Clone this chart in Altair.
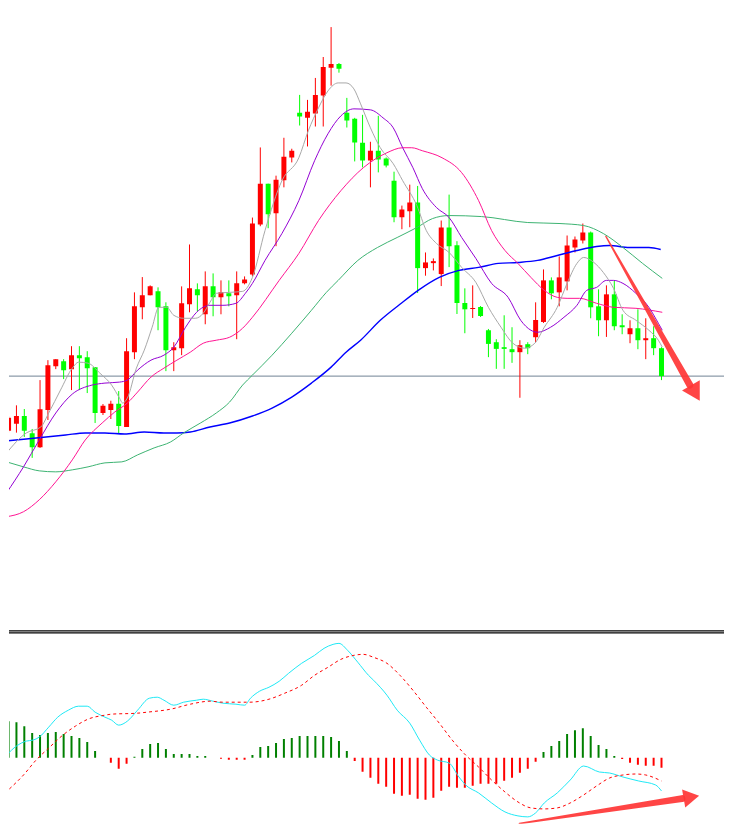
import altair as alt
import pandas as pd

# ---------------- candles (index 0..83) ----------------
opens = [20.93, 21.63, 22.40, 20.67, 19.27, 23.00, 27.40, 27.90, 27.10, 28.50,
         28.30, 27.30, 22.70, 23.00, 23.63, 21.30, 28.80, 33.30, 34.50, 34.90,
         33.40, 29.00, 29.20, 33.60, 35.10, 32.60, 35.40, 34.30, 34.70, 34.50,
         35.70, 36.60, 41.60, 45.70, 42.73, 46.03, 48.33, 52.80, 52.30, 52.73,
         54.53, 57.33, 57.70, 52.80, 52.20, 49.80, 48.03, 49.00, 48.23, 46.00,
         42.33, 42.93, 43.80, 37.23, 37.73, 36.63, 41.30, 39.53, 33.73, 33.13,
         33.33, 31.00, 29.80, 29.30, 29.10, 28.80, 29.60, 30.30, 31.83, 36.00,
         34.80, 35.90, 39.30, 40.00, 40.80, 33.40, 32.00, 34.60, 31.50, 30.60,
         31.20, 30.00, 30.20, 29.20]
closes = [22.23, 22.40, 20.93, 19.27, 23.07, 27.50, 28.10, 27.00, 28.50, 28.20,
          27.20, 22.70, 23.43, 23.63, 21.40, 28.90, 33.40, 34.50, 35.40, 33.30,
          29.00, 29.30, 33.70, 35.20, 34.50, 35.40, 34.30, 34.80, 34.40, 35.70,
          36.10, 41.70, 45.70, 42.63, 46.10, 48.40, 49.00, 52.43, 52.90, 54.60,
          57.40, 57.70, 57.23, 52.03, 49.83, 48.03, 49.00, 48.13, 47.53, 42.33,
          43.10, 43.80, 37.23, 37.80, 37.93, 41.30, 39.43, 33.73, 33.10, 33.23,
          32.43, 29.63, 29.13, 29.13, 28.80, 29.50, 29.20, 32.03, 36.00, 34.70,
          36.30, 39.50, 40.10, 40.80, 33.30, 32.00, 34.60, 31.40, 31.30, 31.20,
          30.00, 30.20, 29.20, 26.40]
highs = [22.40, 23.47, 23.10, 21.10, 26.00, 28.00, 28.10, 28.10, 29.40, 29.40,
         28.90, 27.30, 23.60, 23.93, 24.90, 30.20, 34.80, 36.33, 35.50, 35.30,
         33.80, 29.80, 35.40, 39.60, 35.70, 36.90, 36.70, 36.00, 36.00, 36.90,
         36.40, 42.30, 49.33, 45.70, 46.50, 50.30, 49.20, 54.60, 54.10, 56.30,
         58.40, 61.40, 57.80, 54.30, 52.30, 52.60, 49.90, 52.50, 48.33, 46.90,
         43.50, 45.60, 45.47, 38.80, 38.20, 42.00, 44.60, 39.93, 35.20, 35.50,
         33.43, 31.13, 30.10, 32.50, 31.30, 30.00, 29.80, 33.80, 37.10, 36.30,
         38.40, 40.50, 40.40, 41.70, 40.90, 35.10, 35.50, 36.00, 32.60, 32.00,
         33.10, 32.20, 31.40, 29.30]
lows = [20.73, 20.73, 20.30, 18.20, 19.20, 22.00, 27.10, 26.10, 25.00, 25.00,
        24.70, 21.70, 22.50, 22.10, 20.70, 21.30, 28.10, 32.10, 34.50, 31.00,
        26.90, 26.90, 28.50, 32.80, 32.90, 31.60, 32.40, 32.60, 33.40, 30.10,
        35.60, 36.40, 41.43, 41.23, 39.43, 45.33, 47.83, 51.53, 49.43, 51.43,
        51.43, 55.53, 56.83, 51.33, 47.93, 47.33, 45.33, 46.83, 47.33, 41.83,
        41.13, 41.33, 34.73, 36.47, 37.00, 35.43, 37.33, 32.63, 30.70, 32.23,
        32.33, 28.30, 27.13, 27.13, 27.73, 24.23, 28.60, 29.80, 31.73, 34.10,
        33.40, 35.00, 38.80, 39.70, 32.20, 30.40, 30.33, 31.00, 30.60, 29.70,
        29.10, 28.10, 28.50, 26.00]

# ---------------- moving averages (candle index, price) ----------------
ma5_i = [-0.25, 2.25, 4.1, 5.1, 6.6, 8.1, 8.9, 10.1, 11.6, 13.1, 14.1, 14.5, 15.1, 16.25, 17.25,
         18.25, 19.1, 20.1, 21, 22.25, 23.75, 24.75, 25.6, 26.4, 28.1, 29.75, 31, 32.6, 34.75, 36.9,
         38.1, 39.4, 40.6, 41.9, 42.9, 43.9, 44.75, 46, 47.25, 48.9, 50.1, 51.9, 53.1, 54.4, 56,
         57.6, 59.4, 61, 62.6, 64.1, 65.6, 66.9, 68.1, 69.75, 71, 72.25, 73.1, 74.4, 75.6, 76.9,
         78.1, 79.75, 81.4, 82.6, 83.1]
ma5_v = [18.7, 20.7, 21.3, 22.7, 25.0, 27.2, 27.8, 27.7, 26.7, 25.5, 24.2, 23.7, 24.2, 27.2, 29.0,
         31.3, 33.3, 33.3, 32.5, 32.2, 32.2, 32.7, 33.8, 34.7, 34.8, 34.9, 36.3, 41.0, 46.0, 48.3,
         51.0, 53.3, 55.0, 55.8, 55.8, 55.2, 53.7, 51.3, 49.3, 47.7, 46.0, 43.5, 41.0, 39.7, 38.8,
         37.3, 35.8, 33.3, 31.3, 29.7, 29.2, 29.7, 31.3, 33.3, 35.7, 37.7, 38.3, 37.8, 36.8, 35.2,
         33.0, 32.0, 31.0, 30.0, 29.3]
ma10_i = [-0.25, 1.9, 3.9, 6, 8.1, 10.6, 12.25, 14.1, 15.1, 16.4, 18.1, 19.75, 21, 22.5, 23.9,
          25.6, 27.25, 28.9, 30.1, 31, 32.6, 34.75, 36.9, 38.9, 40.6, 42.25, 43.9, 46, 47.6, 48.9,
          50.1, 51.4, 52.6, 54.4, 56, 57.6, 59.4, 61.4, 63.5, 65.1, 66.4, 67.25, 68.9, 70.6, 72.25,
          73.5, 74.75, 76, 76.9, 78.1, 79.75, 81.4, 82.6, 83.1]
ma10_v = [14.7, 17.3, 20.0, 22.7, 24.6, 25.5, 25.7, 25.8, 26.0, 27.0, 28.0, 28.5, 29.3, 31.3, 32.8,
          33.5, 33.5, 33.7, 34.7, 35.7, 38.0, 40.7, 44.0, 48.0, 50.7, 52.5, 53.2, 53.1, 52.3, 51.3,
          49.3, 47.3, 45.2, 43.3, 42.3, 40.3, 38.2, 35.7, 34.3, 32.0, 31.0, 30.8, 31.3, 32.3, 33.5,
          35.0, 35.3, 36.0, 36.0, 35.7, 34.7, 33.3, 31.7, 31.0]
ma20_i = [-0.25, 1.9, 3.9, 6, 8.1, 9.75, 11.9, 13.5, 15.1, 16.4, 18.1, 19.75, 21.4, 23.1, 24.75,
          26.4, 28.1, 29.75, 31, 34.4, 36.9, 39.4, 42.25, 45.1, 48.1, 50.1, 51.25, 52.6, 55.1, 57.6,
          59.75, 61.4, 63.1, 64.75, 66.4, 68.1, 69.75, 71, 72.6, 74.75, 76.9, 79.75, 83.1]
ma20_v = [12.3, 12.8, 14.0, 15.8, 18.0, 20.0, 21.7, 22.8, 23.7, 24.8, 26.3, 27.2, 28.0, 28.8, 29.7,
          30.0, 30.3, 31.2, 32.3, 36.0, 38.7, 42.0, 45.0, 47.3, 48.8, 49.3, 49.3, 49.0, 48.3, 46.8,
          44.0, 41.0, 39.0, 37.7, 36.3, 35.0, 34.3, 34.2, 34.2, 33.7, 33.3, 33.2, 32.8]
ma60_i = [-0.25, 1.9, 3.9, 6, 8.1, 10.1, 12.25, 14.4, 16.4, 18.5, 20.6, 22.25, 24.4, 26.4, 28.1,
          29.75, 31, 33.5, 36, 38.5, 40.4, 41.9, 44.4, 46.9, 49.4, 51.9, 53.9, 56, 60.1, 66,
          70.1, 73.1, 75.6, 78.1, 80.6, 83.1]
ma60_v = [17.8, 17.3, 16.9, 16.8, 17.0, 17.3, 17.7, 17.8, 18.5, 19.2, 19.8, 20.7, 21.7, 22.7, 23.8,
          25.5, 26.5, 28.5, 30.7, 33.0, 34.8, 36.0, 38.0, 39.3, 40.3, 41.3, 42.2, 42.5, 42.4, 41.8,
          41.7, 41.5, 40.7, 39.3, 37.7, 36.2]
ma120_i = [-0.25, 2.25, 4.75, 7.25, 9.75, 12.25, 14.75, 17.25, 19.75, 21.4, 23.1, 25.6, 28.1, 31, 33.5,
           36, 38.5, 41, 42.9, 44.75, 47.25, 49.75, 52.25, 54.75, 57.25, 59.75, 62.25, 64.75, 67.25, 69.75,
           72.25, 74.75, 76.4, 78.9, 81.4, 82.9]
ma120_v = [19.9, 20.1, 20.3, 20.5, 20.7, 20.7, 20.6, 20.8, 20.7, 20.7, 20.8, 21.3, 21.7, 22.4, 23.2,
           24.3, 25.7, 27.3, 28.8, 30.0, 32.0, 33.6, 35.1, 36.3, 37.0, 37.3, 37.7, 37.8, 38.0, 38.5,
           39.0, 39.4, 39.5, 39.3, 39.3, 39.1]
support_level = [26.4]

# ---------------- MACD panel ----------------
hist = [0.367, 0.357, 0.317, 0.247, 0.227, 0.247, 0.257, 0.237, 0.217, 0.197,
        0.157, 0.067, 0.0, -0.05, -0.11, -0.06, 0.01, 0.087, 0.137, 0.147,
        0.087, 0.037, 0.037, 0.037, 0.017, 0.017, 0.0, -0.01, -0.02, -0.02,
        -0.02, 0.027, 0.107, 0.117, 0.147, 0.187, 0.197, 0.217, 0.217, 0.217,
        0.217, 0.207, 0.167, 0.067, -0.033, -0.14, -0.20, -0.26, -0.29, -0.36,
        -0.38, -0.37, -0.41, -0.42, -0.40, -0.33, -0.29, -0.30, -0.30, -0.28,
        -0.26, -0.26, -0.26, -0.23, -0.20, -0.15, -0.11, -0.04, 0.057, 0.117,
        0.167, 0.237, 0.277, 0.297, 0.217, 0.127, 0.087, 0.017, -0.013, -0.05,
        -0.07, -0.08, -0.08, -0.10]
macd_i = [-0.25, 1, 2.25, 3.1, 3.9, 5.1, 6.25, 7.6, 8.9, 10, 11, 12.25, 13.1, 14, 15.1, 16.4, 17.9,
          18.9, 19.75, 21, 22.25, 23.9, 24.75, 26, 27.25, 28.9, 30, 30.75, 31.9, 33.1, 34.4, 35.6,
          37.25, 38.9, 40.1, 41.25, 42, 43.1, 44.4, 45.75, 46.4, 48.1, 49.4, 51, 52.25, 53.5, 54.5,
          56, 57.25, 58.1, 59.75, 61.4, 63.1, 64.75, 66, 67, 68.1, 69.75, 71.4, 73.1, 75.1, 76.4,
          78.1, 80.1, 82.25, 83]
macd_v = [0.027, 0.117, 0.167, 0.177, 0.207, 0.307, 0.407, 0.477, 0.517, 0.517, 0.457, 0.407, 0.377,
          0.327, 0.367, 0.477, 0.597, 0.607, 0.577, 0.527, 0.557, 0.577, 0.587, 0.567, 0.547, 0.537,
          0.527, 0.597, 0.667, 0.707, 0.767, 0.847, 0.947, 1.027, 1.097, 1.137, 1.147, 1.077, 0.957,
          0.827, 0.777, 0.627, 0.477, 0.347, 0.177, 0.027, -0.023, -0.053, -0.193, -0.273, -0.353,
          -0.453, -0.543, -0.583, -0.593, -0.553, -0.453, -0.353, -0.223, -0.083, -0.143, -0.153,
          -0.193, -0.233, -0.273, -0.333]
sig_i = [0.1, 1.9, 3.5, 5.1, 6.9, 8.5, 10.1, 12.25, 13.1, 16.4, 17.6, 20.6, 23.1, 25.6, 27.25, 30.6,
         33.1, 35.1, 37.25, 38.9, 40.6, 42.25, 43.9, 45.1, 46.4, 48.1, 49.75, 51.4, 53.1, 54.75, 56.4,
         58.1, 59.75, 61.4, 63.1, 64.75, 66.4, 68.1, 69.75, 71.4, 73.1, 74.75, 76.4, 78.1, 79.75, 81, 83]
sig_v = [-0.313, -0.173, -0.023, 0.097, 0.227, 0.317, 0.387, 0.427, 0.437, 0.447, 0.457, 0.487, 0.537,
         0.567, 0.557, 0.557, 0.587, 0.647, 0.727, 0.827, 0.907, 0.987, 1.027, 1.037, 1.007, 0.947,
         0.827, 0.677, 0.507, 0.347, 0.177, 0.027, -0.093, -0.223, -0.343, -0.443, -0.503, -0.513,
         -0.503, -0.453, -0.373, -0.283, -0.203, -0.173, -0.163, -0.173, -0.233]

# ---------------- annotation arrows ----------------
arrow1_i = [75.94, 86.6]
arrow1_v = [40.4, 25.5]
arrow1_w = [1.5, 7.0]
head1 = {"i": [87.3], "v": [24.7]}
arrow2_i = [64.94, 85.6]
arrow2_v = [-0.66, -0.41]
arrow2_w = [1.5, 7.0]
head2 = {"i": [86.8], "v": [-0.395]}
separator_rows = [0.5, 2.5]

W = 717
H_MAIN = 622
H_MACD = 194
xs = alt.Scale(domain=[0.6875, 90.3125], nice=False, zero=False)
ys = alt.Scale(domain=[1.0, 63.2], nice=False, zero=False)
ms = alt.Scale(domain=[-0.663, 1.277], nice=False, zero=False)

UP = "#ff0000"
DOWN = "#00ff00"
ARROW = "#ff3535"

cdf = pd.DataFrame({"i": list(range(len(opens))), "open": opens, "close": closes,
                    "high": highs, "low": lows})
ccol = alt.condition("datum.close >= datum.open", alt.value(UP), alt.value(DOWN))
X = alt.X("i:Q", scale=xs, axis=None)

hline = alt.Chart(pd.DataFrame({"p": support_level})).mark_rule(
    color="#6f8394", strokeWidth=1).encode(y=alt.Y("p:Q", scale=ys, axis=None))

wicks = alt.Chart(cdf).mark_rule(strokeWidth=1, clip=True).encode(
    x=X, y=alt.Y("low:Q", scale=ys, axis=None), y2="high:Q", color=ccol)
bodies = alt.Chart(cdf).mark_bar(size=5, clip=True).encode(
    x=X, y=alt.Y("open:Q", scale=ys, axis=None), y2="close:Q", color=ccol)

ma_specs = [
    (ma120_i, ma120_v, "#0000ff", 1.4),
    (ma60_i, ma60_v, "#3cb371", 1.0),
    (ma20_i, ma20_v, "#ff1493", 1.0),
    (ma10_i, ma10_v, "#9400d3", 1.0),
    (ma5_i, ma5_v, "#a8a8a8", 1.0),
]
ma_layers = []
for mi, mv, col, sw in ma_specs:
    d = pd.DataFrame({"i": mi, "v": mv})
    ma_layers.append(
        alt.Chart(d).mark_line(color=col, strokeWidth=sw, clip=True, interpolate="monotone").encode(
            x=X, y=alt.Y("v:Q", scale=ys, axis=None))
    )

a1 = pd.DataFrame({"i": arrow1_i, "v": arrow1_v, "w": arrow1_w})
arrow1 = alt.Chart(a1).mark_trail(color=ARROW, opacity=0.92, clip=True).encode(
    x=X, y=alt.Y("v:Q", scale=ys, axis=None), size=alt.Size("w:Q", scale=None, legend=None))
arrowhead1 = alt.Chart(pd.DataFrame(head1)).mark_point(
    shape="triangle-up", filled=True, size=420, angle=150, color=ARROW, opacity=0.92, clip=True).encode(
    x=X, y=alt.Y("v:Q", scale=ys, axis=None))

main = alt.layer(hline, wicks, bodies, *ma_layers, arrow1, arrowhead1).properties(width=W, height=H_MAIN)

# MACD panel
hdf = pd.DataFrame({"i": list(range(len(hist))), "h": hist, "z": [0.0] * len(hist)})
hcol = alt.condition("datum.h >= 0", alt.value("#008000"), alt.value("#ff0000"))
bars = alt.Chart(hdf).mark_bar(size=2, clip=True).encode(
    x=X, y=alt.Y("h:Q", scale=ms, axis=None), y2="z:Q", color=hcol)
macd_line = alt.Chart(pd.DataFrame({"i": macd_i, "v": macd_v})).mark_line(
    color="#1ee8f5", strokeWidth=1, clip=True, interpolate="monotone").encode(
    x=X, y=alt.Y("v:Q", scale=ms, axis=None))
sig_line = alt.Chart(pd.DataFrame({"i": sig_i, "v": sig_v})).mark_line(
    color="#ff0000", strokeWidth=1, strokeDash=[3, 3], clip=True, interpolate="monotone").encode(
    x=X, y=alt.Y("v:Q", scale=ms, axis=None))
sep = alt.Chart(pd.DataFrame({"k": separator_rows})).mark_rule(color="#000000", strokeWidth=1.4).encode(
    y=alt.Y("k:Q", scale=alt.Scale(domain=[0, H_MACD], range=[0, H_MACD]), axis=None))
a2 = pd.DataFrame({"i": arrow2_i, "v": arrow2_v, "w": arrow2_w})
arrow2 = alt.Chart(a2).mark_trail(color=ARROW, opacity=0.92, clip=True).encode(
    x=X, y=alt.Y("v:Q", scale=ms, axis=None), size=alt.Size("w:Q", scale=None, legend=None))
arrowhead2 = alt.Chart(pd.DataFrame(head2)).mark_point(
    shape="triangle-up", filled=True, size=330, angle=80, color=ARROW, opacity=0.92, clip=True).encode(
    x=X, y=alt.Y("v:Q", scale=ms, axis=None))

macd = alt.layer(bars, macd_line, sig_line, arrow2, arrowhead2, sep).resolve_scale(y="independent").properties(
    width=W, height=H_MACD)

chart = alt.vconcat(main, macd, spacing=0).properties(
    padding=0, background="#ffffff"
).configure_view(stroke=None)

chart.save("out.html", embed_options={"renderer": "svg", "actions": False})
